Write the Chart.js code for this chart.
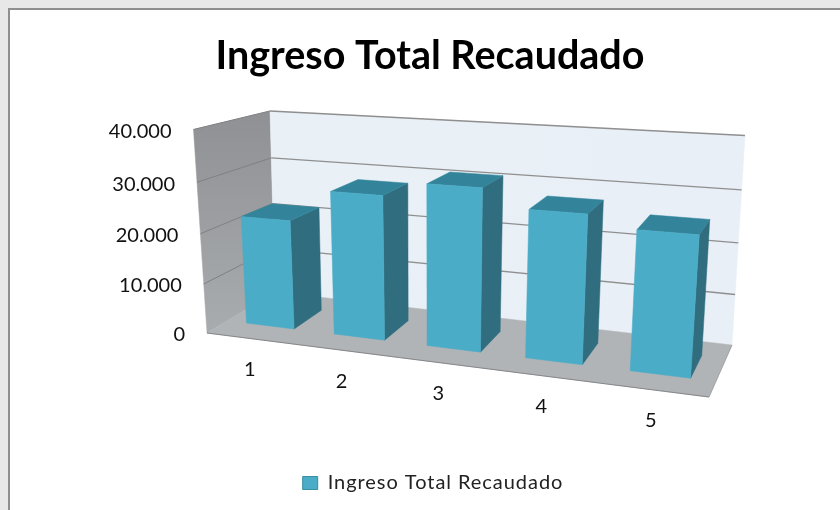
<!DOCTYPE html>
<html><head><meta charset="utf-8">
<style>
html,body{margin:0;padding:0;width:840px;height:510px;overflow:hidden;background:#e9e8e8}
#sheet{position:absolute;left:8px;top:8px;width:832px;height:502px;background:#fff;border-left:2px solid #8f8f8f;border-top:2px solid #8f8f8f;box-sizing:border-box}
#c{position:absolute;left:0;top:0;filter:blur(0.35px)}
</style></head><body>
<div id="sheet"></div>
<canvas id="c" width="840" height="510"></canvas>
<script src="https://cdn.jsdelivr.net/npm/chart.js@4"></script>
<script>
const categories = ['1','2','3','4','5'];
const ingresoTotal = [22000, 28400, 31200, 27900, 25800];
const yTicks = [0, 10000, 20000, 30000, 40000];
const seriesName = 'Ingreso Total Recaudado';

const FRONT='#4aacc7', TOP='#33849b', SIDE='#2f6d7f';
// Box frame of the 3D scene (corners of the plot volume on the page)
const box = {
  f0:[207,333], f1:[709,397], f0t:[193.5,129.5], f1t:[725,161],
  b0:[275,292], b1:[732,345], b0t:[270,111], b1t:[745,135.5]
};
const RU=1.16, RV=1.05, D0=0.3, D1=0.74;
const lerp=(a,b,t)=>[a[0]+(b[0]-a[0])*t,a[1]+(b[1]-a[1])*t];
function project(u,v,w){
  const U=u/(u+(1-u)*RU), V=v/(v+(1-v)*RV);
  const front=lerp(lerp(box.f0,box.f1,U),lerp(box.f0t,box.f1t,U),V);
  const back=lerp(lerp(box.b0,box.b1,U),lerp(box.b0t,box.b1t,U),V);
  return lerp(front,back,w);
}
function poly(ctx,pts,fill){
  ctx.beginPath();pts.forEach((p,i)=>i?ctx.lineTo(p[0],p[1]):ctx.moveTo(p[0],p[1]));ctx.closePath();
  ctx.fillStyle=fill;ctx.fill();
  ctx.strokeStyle=fill;ctx.lineWidth=0.5;ctx.stroke();
}
function line(ctx,a,b,color,w){ctx.beginPath();ctx.moveTo(a[0],a[1]);ctx.lineTo(b[0],b[1]);ctx.strokeStyle=color;ctx.lineWidth=w;ctx.stroke();}

const scene3d={
  id:'scene3d',
  start(chart){
    // the reference legend text is spaced wider than the font's natural advance
    const lg=chart.legend;
    if(!lg) return;
    const fit=lg.fit, draw=lg.draw;
    lg.fit=function(){this.ctx.save();this.ctx.letterSpacing='0.95px';fit.call(this);this.ctx.restore();};
    lg.draw=function(){this.ctx.save();this.ctx.letterSpacing='0.95px';this.ctx.translate(3,0);draw.call(this);this.ctx.restore();};
  },
  beforeDatasetsDraw(chart){
    const ctx=chart.ctx,y=chart.scales.y,x=chart.scales.x,a=chart.chartArea;
    const vOf=t=>(a.bottom-y.getPixelForValue(t))/(a.bottom-a.top);
    ctx.save();
    // walls and floor
    let g=ctx.createLinearGradient(0,115,0,335);g.addColorStop(0,'#8f9194');g.addColorStop(1,'#a9acaf');
    poly(ctx,[project(0,0,0),project(0,1,0),project(0,1,1),project(0,0,1)],g);
    g=ctx.createLinearGradient(270,0,745,0);g.addColorStop(0,'#e9f0f6');g.addColorStop(1,'#e8eff6');
    poly(ctx,[project(0,0,1),project(0,1,1),project(1,1,1),project(1,0,1)],g);
    poly(ctx,[project(0,0,0),project(0,0,1),project(1,0,1),project(1,0,0)],'#b0b4b7');
    // gridlines
    y.ticks.forEach(t=>{
      const v=vOf(t.value);
      if(v>0){
        line(ctx,project(0,v,0),project(0,v,1),'#7f8082',1);
        line(ctx,project(0,v,1),project(1,v,1),'#8f8f8f',1.3);
      }
    });
    line(ctx,project(0,0,0),project(1,0,0),'#858789',1.2);
    line(ctx,project(1,0,0),project(1,0,1),'#9a9d9f',0.8);
    // axis labels
    ctx.fillStyle='#111';ctx.font='20px Lato';ctx.textBaseline='middle';
    ctx.textAlign='right';
    y.ticks.forEach(t=>{const p=project(0,vOf(t.value),0);ctx.fillText(t.label,p[0]-22,p[1]+2);});
    ctx.textAlign='center';
    x.ticks.forEach((t,i)=>{
      const u=(x.getPixelForTick(i)-a.left)/(a.right-a.left);
      const p=project(u,0,0);ctx.fillText(t.label,p[0]-1,p[1]+31);
    });
    ctx.restore();
  },
  beforeDatasetDraw(chart,args){
    const ctx=chart.ctx,a=chart.chartArea,W=a.right-a.left,H=a.bottom-a.top;
    const meta=chart.getDatasetMeta(args.index);
    ctx.save();
    meta.data.forEach(el=>{
      const u0=(el.x-el.width/2-a.left)/W,u1=(el.x+el.width/2-a.left)/W;
      const v0=(a.bottom-el.base)/H,v1=(a.bottom-el.y)/H;
      poly(ctx,[project(u1,v0,D0),project(u1,v1,D0),project(u1,v1,D1),project(u1,v0,D1)],SIDE);
      poly(ctx,[project(u0,v1,D0),project(u0,v1,D1),project(u1,v1,D1),project(u1,v1,D0)],TOP);
      poly(ctx,[project(u0,v0,D0),project(u0,v1,D0),project(u1,v1,D0),project(u1,v0,D0)],FRONT);
    });
    ctx.restore();
    return false;
  }
};

new Chart(document.getElementById('c'),{
  type:'bar',
  data:{labels:categories,datasets:[{label:seriesName,data:ingresoTotal,backgroundColor:FRONT,borderColor:'#3b8da3',borderWidth:1,barPercentage:0.55,categoryPercentage:1}]},
  plugins:[scene3d],
  options:{
    responsive:false,animation:false,
    layout:{padding:{left:20,right:0,top:0,bottom:7}},
    scales:{
      x:{grid:{display:false},border:{display:false},ticks:{display:false}},
      y:{min:0,max:40000,afterBuildTicks(s){s.ticks=yTicks.map(value=>({value}));},
         grid:{display:false},border:{display:false},
         ticks:{display:false,callback:v=>v.toLocaleString('de-DE')}}
    },
    plugins:{
      title:{display:true,text:seriesName,color:'#000',font:{family:'Lato',size:39.5,weight:'bold'},padding:{top:33,bottom:30}},
      legend:{display:true,position:'bottom',labels:{color:'#222',font:{family:'Lato',size:20},boxWidth:15,boxHeight:13,padding:8}},
      tooltip:{enabled:false}
    }
  }
});
</script>
</body></html>
